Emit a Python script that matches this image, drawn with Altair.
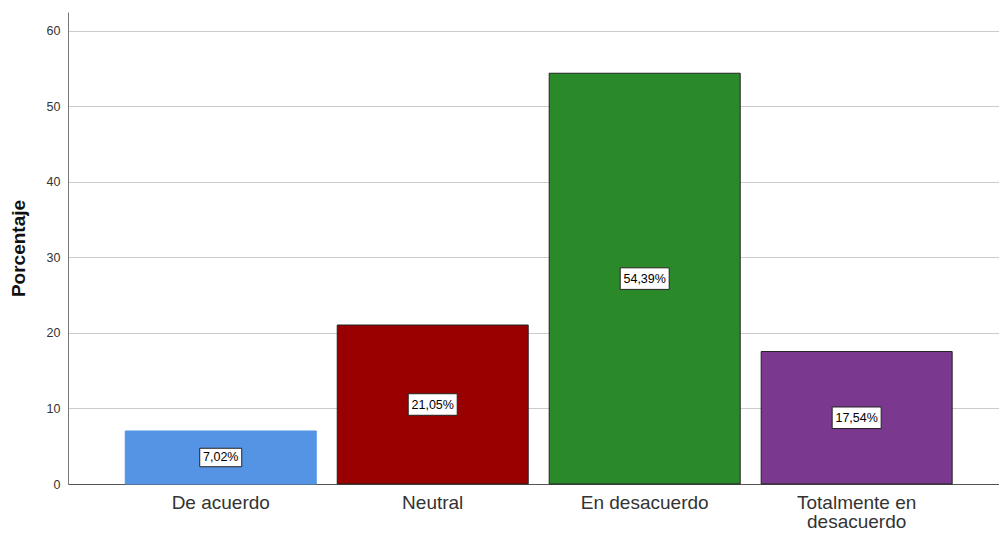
import altair as alt
import pandas as pd

categories = ["De acuerdo", "Neutral", "En desacuerdo", "Totalmente en desacuerdo"]
values = [7.02, 21.05, 54.39, 17.54]
labels = ["7,02%", "21,05%", "54,39%", "17,54%"]
y_ticks = [0, 10, 20, 30, 40, 50, 60]

fills = ["#5594E4", "#990000", "#2A8A2A", "#7A388F"]
strokes = ["#5594E4", "#222222", "#222222", "#222222"]

df = pd.DataFrame({"cat": categories, "val": values, "lab": labels})

FONT = "Arial, Liberation Sans, sans-serif"

x = alt.X(
    "cat:N",
    sort=categories,
    title=None,
    scale=alt.Scale(paddingInner=0.099, paddingOuter=0.2455, align=0.55),
    axis=alt.Axis(
        labelAngle=0,
        labelFont=FONT,
        labelFontSize=19,
        labelColor="#333333",
        labelPadding=9,
        labelLineHeight=19,
        ticks=False,
        grid=False,
        domainColor="#555555",
        labelExpr="datum.label == 'Totalmente en desacuerdo' ? ['Totalmente en', 'desacuerdo'] : datum.label",
    ),
)

y = alt.Y(
    "val:Q",
    title="Porcentaje",
    scale=alt.Scale(domain=[0, 62.5], nice=False),
    axis=alt.Axis(
        values=y_ticks,
        labelFont=FONT,
        labelFontSize=12.5,
        labelColor="#333333",
        labelPadding=8,
        ticks=False,
        domainColor="#777777",
        gridColor="#CCCCCC",
        titleFont=FONT,
        titleFontSize=19,
        titleFontWeight="bold",
        titleColor="#111111",
        titlePadding=18,
    ),
)

bars = alt.Chart(df).mark_bar(strokeWidth=1).encode(
    x=x,
    y=y,
    fill=alt.Color("cat:N", scale=alt.Scale(domain=categories, range=fills), legend=None),
    stroke=alt.Stroke("cat:N", scale=alt.Scale(domain=categories, range=strokes), legend=None),
)

boxes = alt.Chart(df).transform_calculate(
    mid="datum.val / 2",
    sz="pow(7 * length(datum.lab) + 7, 2)",
).mark_point(
    shape="M-1,-0.44H1V0.44H-1Z",
    filled=True,
    fill="white",
    stroke="#222222",
    strokeWidth=1,
    opacity=1,
).encode(
    x=alt.X("cat:N", sort=categories),
    y=alt.Y("mid:Q"),
    size=alt.Size("sz:Q", scale=None, legend=None),
)

texts = alt.Chart(df).transform_calculate(mid="datum.val / 2").mark_text(
    font=FONT, fontSize=12.5, color="#000000", baseline="middle", align="center"
).encode(
    x=alt.X("cat:N", sort=categories),
    y=alt.Y("mid:Q"),
    text="lab:N",
)

chart = alt.layer(bars, boxes, texts).properties(
    width=931,
    height=472,
    padding={"left": 68, "top": 12, "right": 0, "bottom": 49},
    autosize=alt.AutoSizeParams(type="none"),
    background="white",
).configure_view(stroke="#FFFFFF", strokeOpacity=0, strokeWidth=0)

chart.save("out.html", embed_options={"renderer": "svg", "actions": False})
